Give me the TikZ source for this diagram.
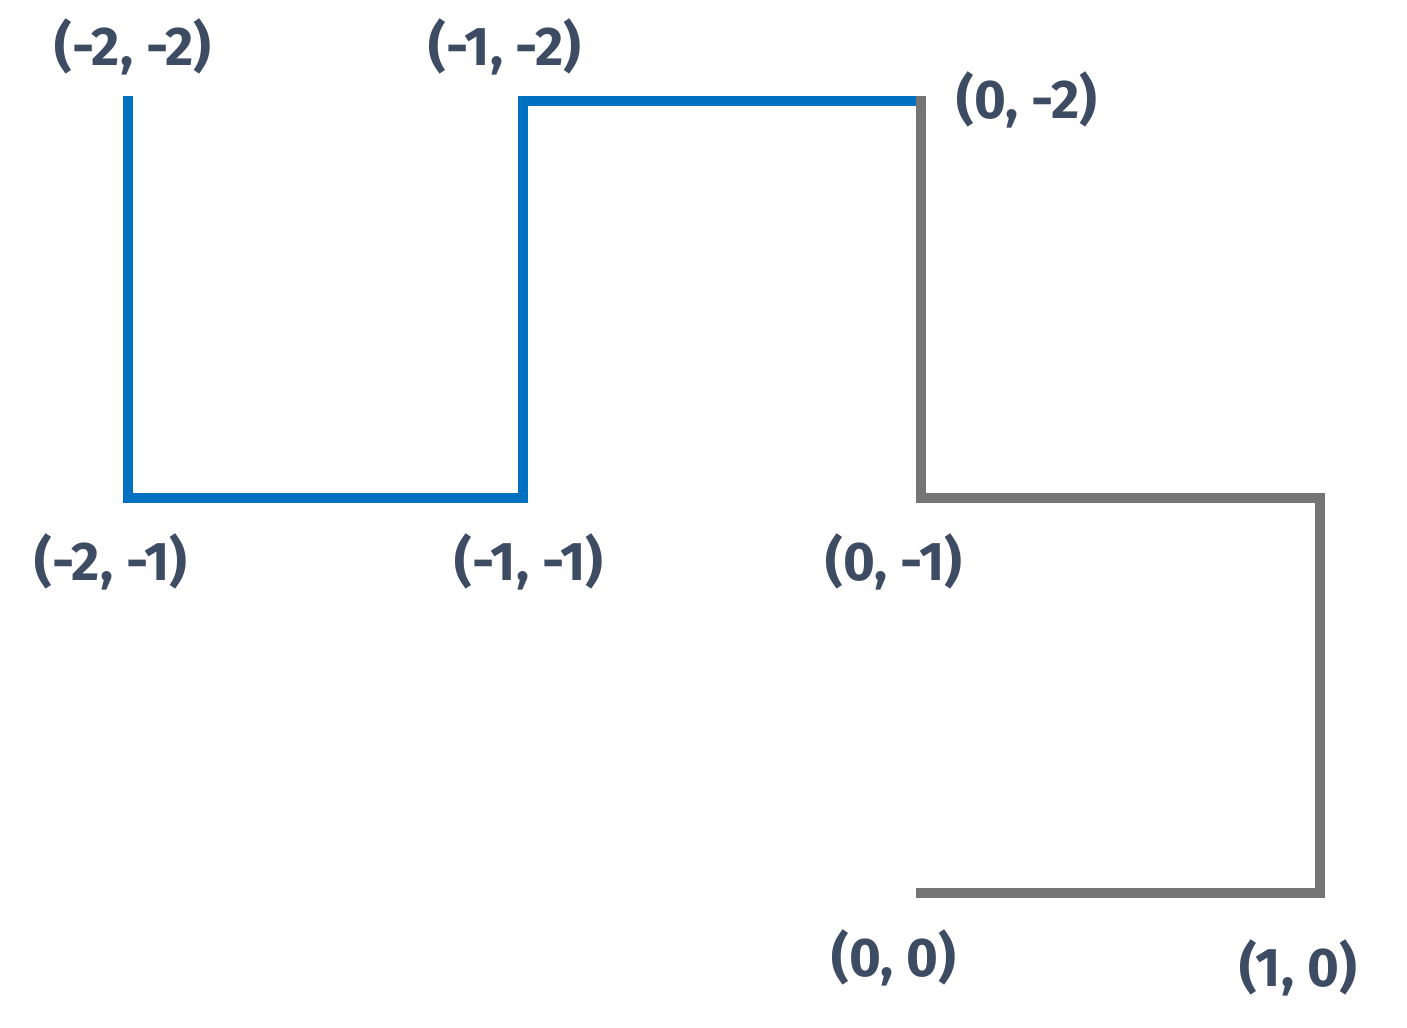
\documentclass[tikz,border=0pt]{standalone}
\usepackage{fontspec}
\setmainfont{Fira Sans}
\usetikzlibrary{positioning}
\definecolor{walkblue}{HTML}{0070C0}
\definecolor{walkgray}{HTML}{757575}
\definecolor{labelink}{HTML}{3E4C63}
\begin{document}
\begin{tikzpicture}[x=0.01cm, y=-0.01cm]
      \tikzstyle{coord} = [text=labelink, font=\fontsize{15.5}{18}\selectfont\bfseries, inner sep=0pt]
      \tikzstyle{walk} = [line width=2.6pt, line cap=rect, line join=miter]

      \useasboundingbox (0,0) rectangle (1407,1028);

      % grid points
      \coordinate (m2m2) at (128,101);
      \coordinate (m1m2) at (523,101);
      \coordinate (z0m2) at (921,101);
      \coordinate (m2m1) at (128,498);
      \coordinate (m1m1) at (523,498);
      \coordinate (z0m1) at (921,498);
      \coordinate (p1m1) at (1320,498);
      \coordinate (z0z0) at (921,893);
      \coordinate (p1z0) at (1320,893);

      \draw[walk, walkblue] (m2m2) -- (m2m1) -- (m1m1) -- (m1m2) -- (z0m2);
      \draw[walk, walkgray] (z0m2) -- (z0m1) -- (p1m1) -- (p1z0) -- (z0z0);

      % labels
      \node (lm2m2) [coord] at (133,47) {(-2, -2)};
      \node (lm1m2) [coord] at (505,47) {(-1, -2)};
      \node (lz0m2) [coord] at (1027,100) {(0, -2)};
      \node (lm2m1) [coord] at (111,562) {(-2, -1)};
      \node (lm1m1) [coord] at (529,562) {(-1, -1)};
      \node (lz0m1) [coord] at (894,562) {(0, -1)};
      \node (lz0z0) [coord] at (894,958) {(0, 0)};
      \node (lp1z0) [coord] at (1298,968) {(1, 0)};
\end{tikzpicture}
\end{document}
